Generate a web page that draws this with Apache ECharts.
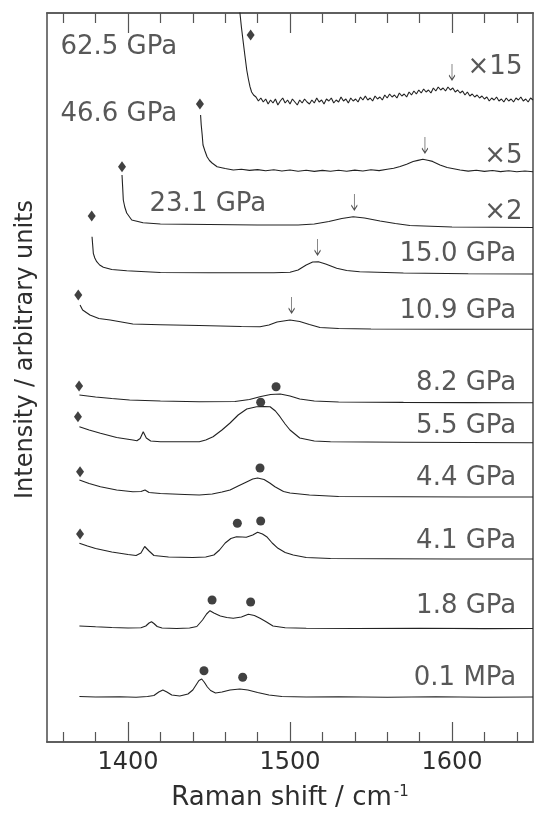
<!DOCTYPE html>
<html>
<head>
<meta charset="utf-8">
<script src="https://cdn.jsdelivr.net/npm/echarts@6/dist/echarts.min.js"></script>
<style>
html, body { margin: 0; padding: 0; background: #fff; }
#chart { width: 534px; height: 816px; }
</style>
</head>
<body>
<div id="chart"></div>
<script>
// raman spectra: [raman shift (cm-1), intensity (arb., stacked)]
const s01 = [[1370,45.5],[1380,45],[1395,45.3],[1405,44.8],[1412,45.5],[1416,46.5],[1419,50],[1421.5,52],[1424,50],[1427,47],[1432,46],[1437,48],[1440,52],[1442,57],[1443.8,61.5],[1445.5,63],[1447,60],[1449,55],[1451,51.5],[1454,49],[1458,50],[1463,52],[1469,53],[1474,52],[1480,49.5],[1487,47],[1495,45.5],[1510,45],[1530,45.3],[1560,44.8],[1590,45.2],[1620,44.8],[1650,45]]
const s18 = [[1370,116],[1380,115.2],[1390,114.5],[1400,114],[1408,114.3],[1411,116],[1413,119],[1414.5,120.3],[1416,118.5],[1418,115.5],[1421,114],[1430,113.5],[1438,114],[1442.5,115.5],[1446,122],[1448.5,128],[1450.6,131.3],[1453,129],[1457,126],[1461,124.5],[1465,123.7],[1470,125],[1474.3,127.7],[1478,126.5],[1481.5,123.7],[1485,120.5],[1489.5,116],[1497,114.3],[1510,113.7],[1540,113.5],[1580,113.8],[1620,113.4],[1650,113.5]]
const s41 = [[1370,198.7],[1375,196],[1380,193.5],[1390,190],[1400,187.5],[1405,186.5],[1408,189],[1410.3,195.5],[1413,191],[1416,186.5],[1425,185],[1440,184.5],[1448,185],[1453,187],[1456.5,192],[1460,199],[1463.5,203.5],[1467,205.3],[1470.5,205],[1473,204.7],[1477,207],[1480,209.7],[1483,208],[1485.6,205.3],[1489,199],[1492.6,193.7],[1497,189.5],[1502,187],[1510,184.5],[1525,183.5],[1560,183.3],[1600,183],[1650,183]]
const s44 = [[1370,262],[1376,258.5],[1383,255.3],[1393,252],[1403,250.3],[1408,250.5],[1410.5,252],[1413,249.5],[1420,248.5],[1435,247.5],[1444,247],[1452,248],[1458,250],[1463,252],[1468,256],[1473.5,260.3],[1477,263],[1480,264],[1484,262.5],[1487.5,259],[1490.7,255.3],[1496,250.5],[1500,249],[1512,247],[1530,245.5],[1570,245.3],[1610,245],[1650,245]]
const s55 = [[1370,315.3],[1376,312],[1383,308.7],[1393,304.5],[1403,302],[1405.5,301.3],[1407.5,303.5],[1409.4,310.3],[1411.3,304],[1414,301],[1420,300.3],[1444,300.3],[1448,302],[1452.5,305.3],[1458,312],[1463,319],[1468,327],[1473.3,333],[1479.4,335.3],[1484,335.5],[1487.7,335.3],[1491,331],[1493.8,325.3],[1497,318],[1500,312],[1506,304],[1515,301],[1525,300.3],[1570,299.8],[1610,299.5],[1650,299.3]]
const s82 = [[1370,347],[1380,345],[1390,343.5],[1401,342],[1420,341],[1444,340.3],[1466,340.5],[1475,342.5],[1482,345.5],[1488,347.5],[1494,348],[1500,346],[1506,343],[1515,341],[1530,340],[1570,339.6],[1610,339.4],[1650,339.3]]
const s109 = [[1370.4,437],[1372,432],[1376.5,427],[1382,423.5],[1389,422],[1403,418],[1420,417.3],[1444,416.5],[1470,415.5],[1481.5,415.3],[1487,417],[1492,420],[1500,422],[1506,420.5],[1512,417.5],[1518.5,414.5],[1530,413.5],[1550,413],[1600,412.8],[1650,412.7]]
const s150 = [[1377.8,505.3],[1378.2,497],[1378.6,488.7],[1379.5,484],[1380.7,480.3],[1382.5,477],[1384.8,474.7],[1390,472.5],[1399.2,471.3],[1420,469.5],[1450,469.3],[1490,469.3],[1500,469.8],[1505,472],[1510,477],[1514,480],[1517.5,480.3],[1522,478],[1528.8,473.7],[1535,471.5],[1543,470.3],[1570,469],[1610,468.3],[1650,468]]
const s231 = [[1396.3,567],[1396.7,555],[1397.1,542],[1398,535],[1399.2,529],[1402.3,522],[1409.3,519.3],[1420,518],[1450,517.5],[1480,517],[1505,517],[1515,518],[1524,520.5],[1532,523.5],[1539,525.3],[1546,524],[1555.6,521],[1565,518.5],[1574,516.5],[1600,515],[1650,514.5]]
const s466 = [[1444.8,627],[1445.2,617],[1445.8,607],[1446.3,597],[1447.5,591],[1448.8,585.3],[1450.3,581.5],[1451.9,579],[1455,575.3],[1460,573.5],[1465,572],[1470,572.8],[1475,571.6],[1480,572.4],[1485,571.2],[1490,572.2],[1495,571],[1500,572],[1505,570.8],[1510,571.8],[1515,570.6],[1520,571.6],[1525,570.8],[1530,571.7],[1535,570.7],[1540,571.9],[1545,571],[1550,572.2],[1555,571.4],[1560,572.8],[1564,573.7],[1568,575.5],[1572,577.8],[1576,580.5],[1579,581.6],[1582,582.7],[1585,581.8],[1588,580.6],[1592.6,577],[1597,574.5],[1601,573.3],[1605,572],[1610,570.9],[1615,571.8],[1620,570.6],[1625,571.5],[1630,570.4],[1635,571.3],[1640,570.2],[1645,571],[1650,570.3]]
const s625 = [[1468.8,760],[1469.1,729],[1470,715],[1471.2,699],[1472.2,686],[1473.3,672],[1474.3,663],[1475.3,655.3],[1476.3,650],
  [1477.5,647],[1479,645],[1480.5,641],[1482,644],[1483.5,640],[1485,643],[1486.5,638],[1488,642],[1489.5,639],[1491,643],
  [1492.5,637],[1494,641],[1495.5,644],[1497,639],[1498.5,642],[1500,638],[1501.5,643],[1503,640],[1504.5,637],[1506,642],
  [1507.5,639],[1509,643],[1510.5,640],[1512,638],[1513.5,642],[1515,639],[1516.5,644],[1518,640],[1519.5,642],[1521,638],
  [1522.5,643],[1524,641],[1525.5,644],[1527,639],[1528.5,642],[1530,640],[1531.5,645],[1533,641],[1534.5,643],[1536,639],
  [1537.5,644],[1539,641],[1540.5,643],[1542,640],[1543.5,645],[1545,642],[1546.5,646],[1548,642],[1549.5,644],[1551,641],
  [1552.5,646],[1554,643],[1555.5,645],[1557,642],[1558.5,647],[1560,644],[1561.5,648],[1563,645],[1564.5,647],[1566,644],
  [1567.5,649],[1569,646],[1570.5,648],[1572,645],[1573.5,650],[1575,647],[1576.5,651],[1578,648],[1579.5,652],[1581,649],
  [1582.5,653],[1584,650],[1585.5,652],[1587,649],[1588.5,654],[1590,651],[1591.5,655],[1593,652],[1594.5,654],[1596,651],
  [1597.5,655],[1599,652],[1600.5,654],[1602,650],[1603.5,652],[1605,649],[1606.5,651],[1608,647],[1609.5,650],[1611,646],
  [1612.5,648],[1614,645],[1615.5,647],[1617,644],[1618.5,646],[1620,643],[1621.5,645],[1623,641],[1624.5,644],[1626,642],
  [1627.5,645],[1629,641],[1630.5,643],[1632,640],[1633.5,644],[1635,641],[1636.5,643],[1638,640],[1639.5,644],[1641,642],
  [1642.5,645],[1644,641],[1645.5,643],[1647,640],[1648.5,644],[1650,642]]

const spectra = [s01, s18, s41, s44, s55, s82, s109, s150, s231, s466, s625]
const pressures = ['0.1 MPa', '1.8 GPa', '4.1 GPa', '4.4 GPa', '5.5 GPa', '8.2 GPa', '10.9 GPa', '15.0 GPa', '23.1 GPa', '46.6 GPa', '62.5 GPa']
const factors = ['×2', '×5', '×15']

// peak markers
const diamonds = [[1370.4,208],[1370.4,270.3],[1369.1,325.3],[1369.8,356],[1369.3,447],[1377.6,526],[1396.3,575.3],[1444.4,638],[1475.7,707]]
const dots = [[1446.9,71.3],[1470.8,64.7],[1451.9,142],[1475.7,140],[1467.5,218.7],[1481.9,221],[1481.5,274],[1481.9,339.7],[1491.4,355.3]]
const arrows = [[1501,429],[1517,487],[1539.7,532],[1583.3,589],[1600,662]]

// axis ticks
const xMin = 1350
const xMax = 1650
const majorTicks = [1400, 1500, 1600]
const minorTicks = [1360, 1380, 1420, 1440, 1460, 1480, 1520, 1540, 1560, 1580, 1620, 1640]

// label placement (layout only): [shift, height, align]
const pressPos = [[1640,63,'right'],[1640,135,'right'],[1640,200,'right'],[1640,263,'right'],[1640,315.5,'right'],[1640,358.7,'right'],[1640,430.3,'right'],[1640,487,'right'],[1413.6,537,'left'],[1358.6,627,'left'],[1358.6,694,'left']]
const factorPos = [[1643.8,529],[1643.8,585],[1643.8,674]]

const FONT = '"DejaVu Sans", sans-serif'
const INK = '#222'
const TXT = '#2e2e2e'
const AX = '#555'

const chart = echarts.init(document.getElementById('chart'))

// one axis per side for long ticks, one for short ticks
const makeX = (pos, ticks, len, extra) => Object.assign({
  type: 'value',
  position: pos,
  min: xMin,
  max: xMax,
  axisLine: { show: true, lineStyle: { color: AX, width: 1.6 } },
  axisTick: { show: true, inside: true, length: len, customValues: ticks, lineStyle: { color: AX, width: 1.2 } },
  axisLabel: { show: false },
  splitLine: { show: false }
}, extra || {})

const lineSeries = spectra.map((d, i) => ({
  name: pressures[i],
  type: 'line',
  data: d,
  symbol: 'none',
  clip: true,
  silent: true,
  lineStyle: { color: INK, width: 1.1 }
}))

const option = {
  animation: false,
  backgroundColor: '#fff',
  grid: { left: 47, right: 1, top: 13, bottom: 74, outerBoundsMode: 'none' },
  xAxis: [
    makeX('bottom', majorTicks, 20, {
      axisLabel: { show: true, customValues: majorTicks, formatter: v => String(v), fontSize: 24, color: TXT, fontFamily: FONT, margin: 9 },
      name: 'Raman shift / cm{sup|-1}',
      nameLocation: 'middle',
      nameGap: 43,
      nameTextStyle: {
        fontSize: 26, color: TXT, fontFamily: FONT,
        rich: { sup: { fontSize: 15, color: TXT, fontFamily: FONT, verticalAlign: 'top', padding: [0, 0, 12, 2] } }
      }
    }),
    makeX('bottom', minorTicks, 10),
    makeX('top', majorTicks, 20),
    makeX('top', minorTicks, 10)
  ],
  yAxis: [
    {
      type: 'value', min: 0, max: 729, position: 'left',
      axisLine: { show: true, lineStyle: { color: AX, width: 1.6 } },
      axisTick: { show: false }, axisLabel: { show: false }, splitLine: { show: false },
      name: 'Intensity / arbitrary units',
      nameLocation: 'middle',
      nameGap: 9,
      nameRotate: 90,
      nameTextStyle: { fontSize: 24, color: TXT, fontFamily: FONT, padding: [0, 0, 0, 56] }
    },
    {
      type: 'value', min: 0, max: 729, position: 'right',
      axisLine: { show: true, lineStyle: { color: AX, width: 1.6 } },
      axisTick: { show: false }, axisLabel: { show: false }, splitLine: { show: false }
    }
  ],
  series: lineSeries.concat([
    {
      type: 'scatter', data: diamonds, symbol: 'diamond', symbolSize: [8, 11],
      itemStyle: { color: '#111' }, silent: true
    },
    {
      type: 'scatter', data: dots, symbol: 'circle', symbolSize: 9,
      itemStyle: { color: '#111' }, silent: true
    },
    {
      type: 'scatter', data: arrows,
      symbol: 'path://M3,0 L3,15 M0.5,10.5 L3,15 L5.5,10.5',
      symbolSize: [6, 16], symbolOffset: [0, '-50%'],
      itemStyle: { color: 'rgba(0,0,0,0)', borderColor: INK, borderWidth: 1.1 }, silent: true
    },
    {
      type: 'scatter', symbolSize: 1, itemStyle: { color: 'rgba(0,0,0,0)' }, silent: true,
      data: pressures.map((p, i) => ({
        value: [pressPos[i][0], pressPos[i][1]],
        label: { show: true, formatter: p, position: [0, 0], align: pressPos[i][2], verticalAlign: 'middle',
          fontSize: 26, color: TXT, fontFamily: FONT }
      }))
    },
    {
      type: 'scatter', symbolSize: 1, itemStyle: { color: 'rgba(0,0,0,0)' }, silent: true,
      data: factors.map((f, i) => ({
        value: factorPos[i],
        label: { show: true, formatter: f, position: [0, 0], align: 'right', verticalAlign: 'middle',
          fontSize: 26, color: TXT, fontFamily: FONT }
      }))
    }
  ])
}

chart.setOption(option)
window.addEventListener('resize', () => { chart.resize() })
</script>
</body>
</html>
